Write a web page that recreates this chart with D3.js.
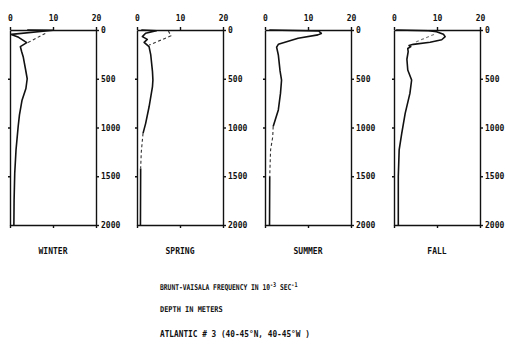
<!DOCTYPE html>
<html lang="en">

<head>
  <meta charset="UTF-8">
  <title>Brunt-Vaisala frequency</title>
  <style>
    html,
    body {
      margin: 0;
      background: #fff;
    }

    text {
      font-family: "DejaVu Sans Mono", monospace;
      font-weight: bold;
      fill: #111;
    }

    .domain,
    .tick line {
      stroke: #111;
      stroke-width: 1.4;
    }
  </style>
</head>

<body>
  <div id="main"></div>

  <script src="https://cdn.jsdelivr.net/npm/d3@7"></script>

  <script>
    // 数据
    const seasons = ['WINTER', 'SPRING', 'SUMMER', 'FALL']
    const freqTicks = [0, 10, 20]
    const depthTicks = [0, 500, 1000, 1500, 2000]

    const winterDepth = [0, 3, 45, 75, 130, 170, 220, 280, 400, 500, 600, 720, 870, 990, 1230, 1470, 1750, 2000]
    const winterN = [4, 10, 0.3, 2.0, 3.9, 2.4, 2.7, 3.1, 3.6, 4.0, 3.7, 2.8, 2.2, 1.9, 1.4, 1.1, 0.95, 0.9]
    const winterDashDepth = [35, 140]
    const winterDashN = [8.2, 3.7]

    const springDepth = [0, 8, 34, 68, 96, 126, 171, 256, 427, 513, 580, 790, 960, 1060, 1240, 1420, 2000]
    const springN = [1, 4.5, 2.0, 1.25, 2.4, 1.65, 2.8, 3.2, 3.6, 3.7, 3.6, 2.8, 2.0, 1.4, null, 0.85, 0.8]
    const springDashDepth = [10, 60, 155, 600, 1060, 1250, 1420]
    const springDashN = [7.3, 7.9, 2.8, null, 1.4, 1.0, 0.85]

    const summerDepth = [0, 10, 35, 50, 85, 147, 175, 256, 420, 513, 650, 820, 990, 1200, 1500, 2000]
    const summerN = [1, 12.5, 13.1, 12.3, 7.7, 3.1, 2.7, 3.1, 3.5, 3.85, 3.6, 3.1, 1.9, null, 1.1, 1.05]
    const summerDashDepth = [990, 1095, 1230, 1500]
    const summerDashN = [1.9, 1.8, 1.3, 1.1]

    const fallDepth = [0, 8, 17, 44, 68, 100, 125, 147, 160, 171, 190, 222, 300, 410, 513, 650, 855, 1060, 1230, 1500, 2000]
    const fallN = [0.5, 8, 9.9, 11.5, 11.9, 11.1, 8.4, 4.5, 3.5, 3.9, 3.2, 3.3, 3.0, 3.2, 4.1, 3.7, 2.6, 1.8, 1.2, 1.0, 1.0]
    const fallDashDepth = [45, 128]
    const fallDashN = [9.3, 4.8]

    const solids = [[winterDepth, winterN], [springDepth, springN], [summerDepth, summerN], [fallDepth, fallN]]
    const dashes = [[winterDashDepth, winterDashN], [springDashDepth, springDashN], [summerDashDepth, summerDashN], [fallDashDepth, fallDashN]]

    const svg = d3.select('#main').append('svg').attr('width', 506).attr('height', 350)

    const panelLeft = [10, 137, 265, 394]
    const panelW = 86
    const plotTop = 30
    const plotBottom = 225

    const y = d3.scaleLinear().domain([0, 2000]).range([plotTop, plotBottom])

    seasons.forEach((name, i) => {
      const x = d3.scaleLinear().domain([0, 20]).range([panelLeft[i], panelLeft[i] + panelW])
      const g = svg.append('g')

      // 坐标轴
      g.append('g').attr('transform', `translate(0,${plotTop})`)
        .call(d3.axisTop(x).tickValues(freqTicks).tickSize(3).tickSizeOuter(0).tickPadding(6))
        .call(a => a.selectAll('text').style('font-size', '8px'))
      g.append('g').attr('transform', `translate(0,${plotBottom})`)
        .call(d3.axisBottom(x).tickValues(freqTicks).tickSize(3).tickSizeOuter(0).tickFormat(''))
      g.append('g').attr('transform', `translate(${panelLeft[i] + panelW},0)`)
        .call(d3.axisRight(y).tickValues(depthTicks).tickSize(3).tickSizeOuter(0).tickPadding(2).tickFormat(d3.format('d')))
        .call(a => a.selectAll('text').style('font-size', '8px'))
      g.append('g').attr('transform', `translate(${panelLeft[i]},0)`)
        .call(d3.axisLeft(y).tickValues([500, 1000, 1500]).tickSize(2).tickSizeOuter(0).tickFormat(''))
      g.selectAll('.tick text').attr('fill', '#111').style('font-family', '"DejaVu Sans Mono", monospace')

      const line = d3.line()
        .defined(d => d[1] !== null)
        .x(d => x(d[1]))
        .y(d => y(d[0]))

      const [sd, sn] = solids[i]
      g.append('path')
        .datum(sd.map((d, k) => [d, sn[k]]))
        .attr('d', line)
        .attr('fill', 'none')
        .attr('stroke', '#111')
        .attr('stroke-width', 1.6)
        .attr('stroke-linejoin', 'round')

      const [dd, dn] = dashes[i]
      g.append('path')
        .datum(dd.map((d, k) => [d, dn[k]]))
        .attr('d', line)
        .attr('fill', 'none')
        .attr('stroke', i === 3 ? '#777' : '#333')
        .attr('stroke-width', 1.1)
        .attr('stroke-dasharray', '3,2.5')

      g.append('text')
        .attr('x', panelLeft[i] + panelW / 2)
        .attr('y', 254)
        .attr('text-anchor', 'middle')
        .style('font-size', '8px')
        .text(name)
    })

    // 说明文字，横向压缩到原图宽度
    const fitX = (sel, x0, y0, w) => {
      const bw = sel.node().getBBox().width
      sel.attr('transform', `translate(${x0},${y0}) scale(${w / bw},1)`)
    }

    const t1 = svg.append('text').style('font-size', '8px')
    t1.append('tspan').text('BRUNT-VAISALA FREQUENCY IN 10')
    t1.append('tspan').attr('dy', -3.5).style('font-size', '6.5px').text('-3')
    t1.append('tspan').attr('dy', 3.5).text(' SEC')
    t1.append('tspan').attr('dy', -3.5).style('font-size', '6.5px').text('-1')
    fitX(t1, 160, 290, 138)

    const t2 = svg.append('text').style('font-size', '8px').text('DEPTH IN METERS')
    fitX(t2, 160, 312, 63)

    const t3 = svg.append('text').style('font-size', '9px').style('font-weight', '900')
      .text('ATLANTIC  # 3  (40-45°N, 40-45°W )')
    fitX(t3, 160, 337, 150)
  </script>
</body>

</html>
